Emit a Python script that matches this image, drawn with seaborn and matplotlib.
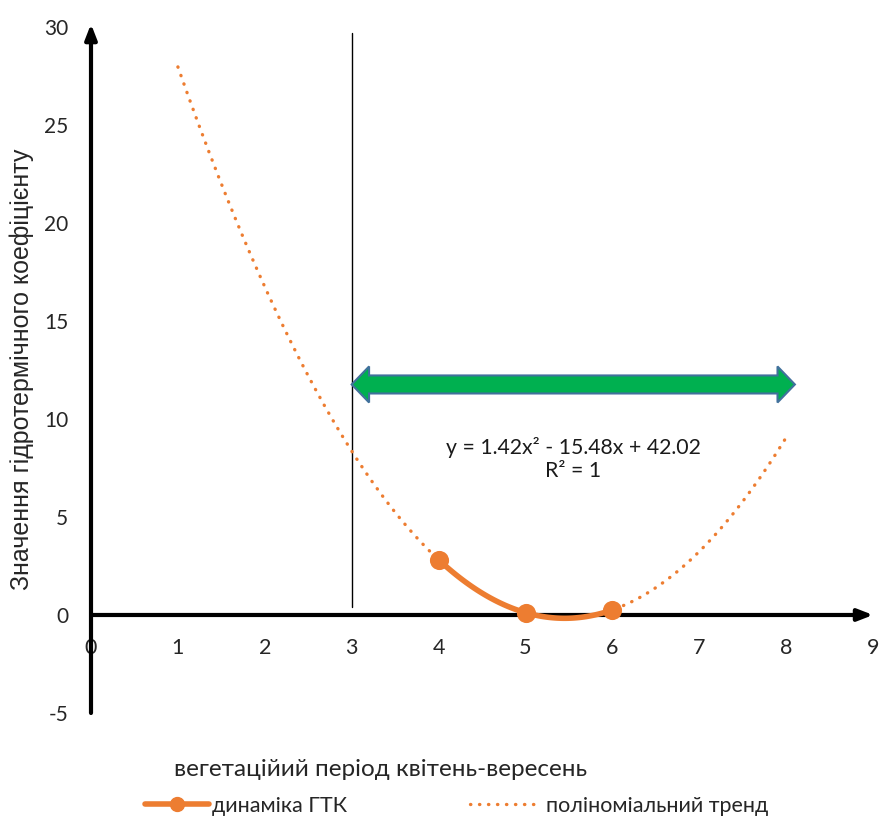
import numpy as np
import pandas as pd
import matplotlib
matplotlib.use("Agg")
import matplotlib.pyplot as plt
import seaborn as sns
from matplotlib.patches import Polygon
from matplotlib.lines import Line2D

# Hydrothermal coefficient over the growing season (months 4..6)
months = [4, 5, 6]
gtk_values = [2.82, 0.12, 0.26]
x_ticks = [0, 1, 2, 3, 4, 5, 6, 7, 8, 9]
y_ticks = [-5, 0, 5, 10, 15, 20, 25, 30]
trend_range = [1, 8]

series_label = "динаміка ГТК"
trend_label = "поліноміальний тренд"
x_title = "вегетаційий період квітень-вересень"
y_title = "Значення гідротермічного коефіцієнту"

ORANGE = "#ED7D31"

sns.set_style("white")
plt.rcParams["font.family"] = ["Lato", "DejaVu Sans"]
plt.rcParams["axes.unicode_minus"] = False

fig = plt.figure(figsize=(8.81, 8.19), dpi=100)
ax = fig.add_axes([91 / 881, (819 - 713) / 819, 9.05 * 86.9 / 881, (713 - 23) / 819])
ax.set_xlim(0, 9.05)
ax.set_ylim(-5, 30.2)

# Quadratic trend fitted to the monthly values
coef = np.polyfit(months, gtk_values, 2)
xt = np.linspace(trend_range[0], trend_range[1], 300)
yt = np.polyval(coef, xt)
fitted = np.polyval(coef, months)
ss_res = np.sum((np.array(gtk_values) - fitted) ** 2)
ss_tot = np.sum((np.array(gtk_values) - np.mean(gtk_values)) ** 2)
r2 = 1 - ss_res / ss_tot

trend_df = pd.DataFrame({"x": xt, "y": yt})
data_df = pd.DataFrame({"x": months, "y": gtk_values})

sns.lineplot(data=trend_df, x="x", y="y", ax=ax, color=ORANGE, lw=2.4,
             zorder=3, estimator=None, sort=False)
ax.lines[-1].set_dashes([0.1, 2.6])
ax.lines[-1].set_dash_capstyle("round")

# Smoothed series line (passes exactly through the quadratic, R² = 1)
xs = np.linspace(min(months), max(months), 100)
smooth_df = pd.DataFrame({"x": xs, "y": np.polyval(coef, xs)})
sns.lineplot(data=smooth_df, x="x", y="y", ax=ax, color=ORANGE, lw=4,
             zorder=4, estimator=None, sort=False)
ax.lines[-1].set_solid_capstyle("round")
sns.scatterplot(data=data_df, x="x", y="y", ax=ax, color=ORANGE, s=190,
                edgecolor=ORANGE, linewidth=0, zorder=5)

# Axes drawn as arrows through the origin
for s in ax.spines.values():
    s.set_visible(False)
ax.annotate("", xy=(9.0, 0), xytext=(0, 0),
            arrowprops=dict(arrowstyle="-|>,head_length=0.9,head_width=0.35",
                            lw=3, color="black", shrinkA=0, shrinkB=0), zorder=2)
ax.annotate("", xy=(0, 30.15), xytext=(0, -5),
            arrowprops=dict(arrowstyle="-|>,head_length=0.9,head_width=0.35",
                            lw=3, color="black", shrinkA=0, shrinkB=0), zorder=2)

ax.set_xticks(x_ticks)
ax.set_yticks(y_ticks)
ax.tick_params(axis="both", length=0)
ax.tick_params(axis="x", pad=16.5, labelsize=15.5)
ax.tick_params(axis="y", pad=16.5, labelsize=15)
for lbl in ax.get_yticklabels():
    lbl.set_family("DejaVu Sans")
    lbl.set_fontsize(14.5)
# tick labels follow the axis lines through the origin
ax.spines["bottom"].set_position(("data", 0))
ax.spines["left"].set_position(("data", 0))
ax.set_xlabel("")
ax.set_ylabel("")
ax.grid(False)

# Vertical marker at month 3
ax.plot([3, 3], [0.4, 29.7], color="black", lw=1, zorder=2)

# Double-headed block arrow spanning months 3..8
x0, x1, yc = 3.0, 8.1, 11.76
hl, hh, sh = 0.2, 0.92, 0.46
pts = [(x0, yc), (x0 + hl, yc + hh), (x0 + hl, yc + sh), (x1 - hl, yc + sh),
       (x1 - hl, yc + hh), (x1, yc), (x1 - hl, yc - hh), (x1 - hl, yc - sh),
       (x0 + hl, yc - sh), (x0 + hl, yc - hh)]
ax.add_patch(Polygon(pts, closed=True, facecolor="#00B050",
                     edgecolor="#41719C", lw=1.5, zorder=6))

# Trend equation
eq = f"y = {coef[0]:.2f}x² - {abs(coef[1]):.2f}x + {coef[2]:.2f}\nR² = {r2:.0f}"
ax.text(5.55, 7.95, eq, ha="center", va="center", fontsize=15.3,
        linespacing=1.2, color="#1a1a1a", zorder=7)

# Axis titles
fig.text(381 / 881, 1 - 770 / 819, x_title, ha="center", va="center", fontsize=17.5)
fig.text(22 / 881, 1 - 369 / 819, y_title, ha="center", va="center", rotation=90,
         fontsize=18, family=["Liberation Sans", "DejaVu Sans"])

# Legend entries below the plot
h_series = Line2D([], [], color=ORANGE, lw=4, marker="o", markersize=10)
h_trend = Line2D([], [], color=ORANGE, lw=2.4, dashes=[0.1, 2.6], dash_capstyle="round")
leg_kw = dict(loc="center left", frameon=False, fontsize=15.5, borderpad=0,
              borderaxespad=0)
fig.legend([h_series], [series_label], bbox_to_anchor=(145 / 881, 1 - 806 / 819),
           handlelength=2.95, handletextpad=0.15, **leg_kw)
fig.legend([h_trend], [trend_label], bbox_to_anchor=(470 / 881, 1 - 806 / 819),
           handlelength=3.25, handletextpad=0.28, **leg_kw)

fig.savefig("out.png", dpi=100)
